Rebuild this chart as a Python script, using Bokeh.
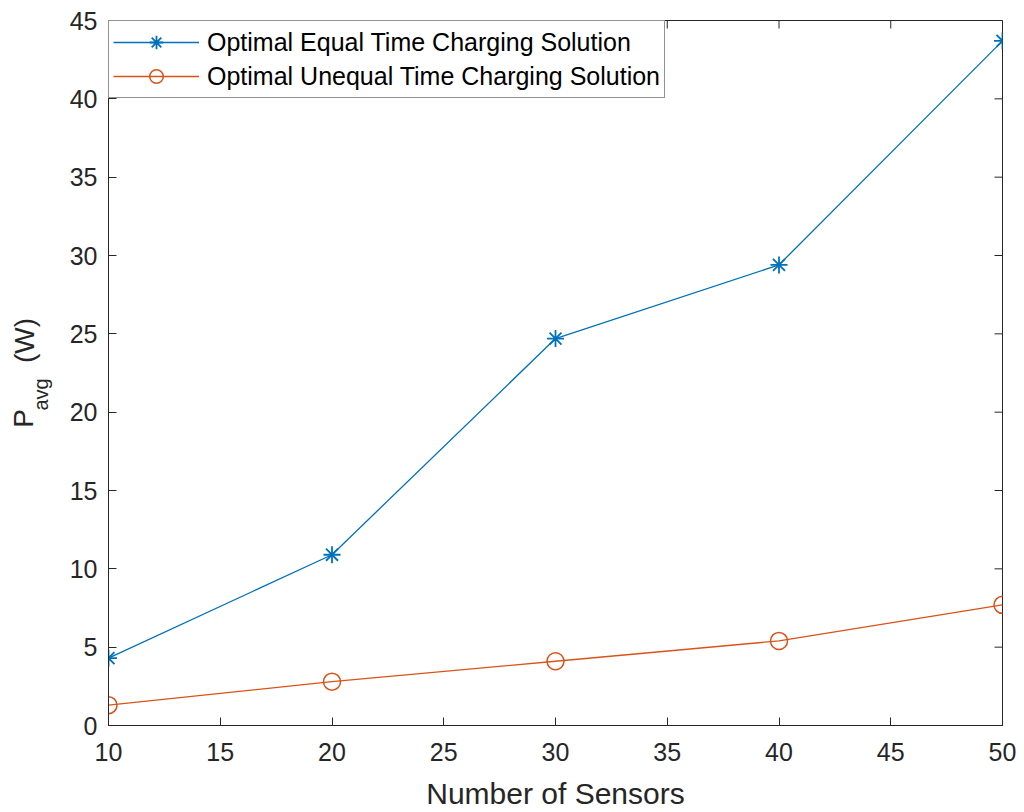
import math
from bokeh.plotting import figure
from bokeh.layouts import row
from bokeh.models import Range1d, FixedTicker, Legend, LegendItem
from bokeh.core.properties import value
from bokeh.embed import file_html
from bokeh.resources import INLINE

# ---- data ----
sensors = [10, 20, 30, 40, 50]
p_equal = [4.3, 10.9, 24.7, 29.4, 43.7]
p_unequal = [1.3, 2.8, 4.1, 5.4, 7.7]
x_ticks = [10, 15, 20, 25, 30, 35, 40, 45, 50]
y_ticks = [0, 5, 10, 15, 20, 25, 30, 35, 40, 45]
label_equal = "Optimal Equal Time Charging Solution"
label_unequal = "Optimal Unequal Time Charging Solution"
x_label = "Number of Sensors"
y_label_main = "P"
y_label_sub = "avg"
y_label_unit = "(W)"

BLUE = "#0072BD"
ORANGE = "#D95319"
AX = "#262626"
FONT = "Liberation Sans"
LABEL_W = 60
H = 812
FRAME_TOP = 20
FRAME_BOTTOM = 725

# ---- y-axis label panel (separate narrow figure so text is not clipped) ----
# the row aligns this panel's frame with the main frame, so map page pixels accordingly
lab = figure(width=LABEL_W, height=H, output_backend="svg", toolbar_location=None,
             x_range=Range1d(0, LABEL_W), y_range=Range1d(H - FRAME_BOTTOM, H - FRAME_TOP),
             x_axis_location=None, y_axis_location=None, min_border=0,
             outline_line_color=None)
lab.xgrid.visible = False
lab.ygrid.visible = False
lab.text(x=[23], y=[H - 418], text=[y_label_main], angle=math.pi / 2,
         text_font=value(FONT), text_font_size="28px", text_color=AX,
         text_align="center", text_baseline="middle")
lab.text(x=[40], y=[H - 394], text=[y_label_sub], angle=math.pi / 2,
         text_font=value(FONT), text_font_size="20px", text_color=AX,
         text_align="center", text_baseline="middle")
lab.text(x=[24], y=[H - 340], text=[y_label_unit], angle=math.pi / 2,
         text_font=value(FONT), text_font_size="28px", text_color=AX,
         text_align="center", text_baseline="middle")

# ---- main plot ----
p = figure(width=1024 - LABEL_W, height=H, output_backend="svg", toolbar_location=None,
           x_range=Range1d(10, 50), y_range=Range1d(0, 45),
           min_border_left=108 - LABEL_W, min_border_right=22, min_border_top=FRAME_TOP,
           min_border_bottom=H - FRAME_BOTTOM)
p.xgrid.visible = False
p.ygrid.visible = False
p.outline_line_color = AX
p.outline_line_width = 1

for ax in (p.xaxis[0], p.yaxis[0]):
    ax.axis_line_color = AX
    ax.major_tick_line_color = AX
    ax.major_tick_in = 8
    ax.major_tick_out = 0
    ax.minor_tick_line_color = None
    ax.major_label_text_font = FONT
    ax.major_label_text_font_size = "25px"
    ax.major_label_text_color = AX
    ax.axis_label_text_font = FONT
    ax.axis_label_text_font_style = "normal"
    ax.axis_label_text_font_size = "30px"
    ax.axis_label_text_color = AX

p.xaxis.ticker = FixedTicker(ticks=x_ticks)
p.yaxis.ticker = FixedTicker(ticks=y_ticks)
p.xaxis.major_label_standoff = 17
p.yaxis.major_label_standoff = 11
p.xaxis.axis_label = x_label
p.xaxis.axis_label_standoff = 13

# box ticks on top and right edges (pointing inward)
p.ray(x=x_ticks, y=[45] * len(x_ticks), length=8, length_units="screen",
      angle=-math.pi / 2, line_color=AX, line_width=1)
p.ray(x=[50] * len(y_ticks), y=y_ticks, length=8, length_units="screen",
      angle=math.pi, line_color=AX, line_width=1)

# ---- series ----
l1 = p.line(sensors, p_equal, line_color=BLUE, line_width=1.3)
m1 = p.scatter(sensors, p_equal, marker="asterisk", size=17, line_color=BLUE, line_width=1.8)
l2 = p.line(sensors, p_unequal, line_color=ORANGE, line_width=1.3)
m2 = p.scatter(sensors, p_unequal, marker="circle", size=17, line_color=ORANGE,
               fill_color=None, line_width=1.5)

legend = Legend(items=[LegendItem(label=label_equal, renderers=[l1, m1]),
                       LegendItem(label=label_unequal, renderers=[l2, m2])],
                location="top_left", margin=0, padding=4, spacing=0,
                glyph_width=86, glyph_height=34, label_height=34, label_standoff=8,
                label_text_font=FONT, label_text_font_size="25px", label_text_color="black",
                border_line_color=AX, border_line_width=1, background_fill_color="white",
                background_fill_alpha=1.0)
p.add_layout(legend, "center")

layout = row(lab, p, spacing=0)
open("out.html", "w").write(file_html(layout, INLINE))
